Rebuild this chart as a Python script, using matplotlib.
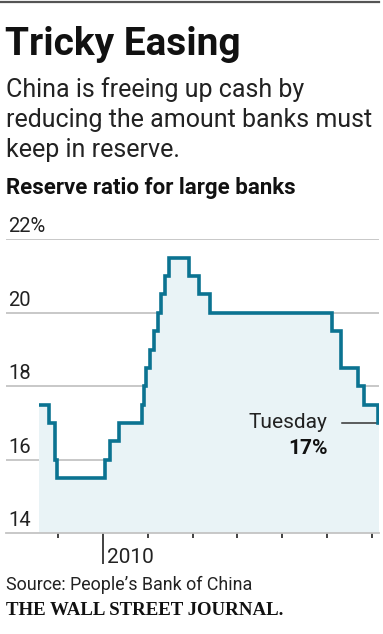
import matplotlib
matplotlib.use("Agg")
import matplotlib.pyplot as plt
from matplotlib.transforms import blended_transform_factory, offset_copy
from matplotlib.lines import Line2D

# ---- data ----
dates = [2008.58, 2008.79, 2008.93, 2008.98, 2010.05, 2010.15, 2010.36, 2010.88,
         2010.91, 2010.97, 2011.05, 2011.15, 2011.23, 2011.30, 2011.38, 2011.47,
         2011.93, 2012.15, 2012.38, 2015.10, 2015.30, 2015.68, 2015.81, 2016.14,
         2016.16]
ratios = [17.5, 17.0, 16.0, 15.5, 16.0, 16.5, 17.0, 17.5,
          18.0, 18.5, 19.0, 19.5, 20.0, 20.5, 21.0, 21.5,
          21.0, 20.5, 20.0, 19.5, 18.5, 18.0, 17.5, 17.0,
          17.0]
y_ticks = [14, 16, 18, 20, 22]
y_labels = ["14", "16", "18", "20", "22%"]
year_ticks = [2009, 2010, 2011, 2012, 2013, 2014, 2015, 2016]
labeled_year = 2010

title = "Tricky Easing"
subtitle = ["China is freeing up cash by",
            "reducing the amount banks must",
            "keep in reserve."]
chart_label = "Reserve ratio for large banks"
source = "Source: People\u2019s Bank of China"
brand = "THE WALL STREET JOURNAL."

LINE = "#0b7391"
FILL = "#e9f3f6"
GRID = "#c4c4c4"
SANS = "Roboto"

W, H = 383, 634
fig = plt.figure(figsize=(W / 100, H / 100), dpi=100)
fig.patch.set_facecolor("white")

def fx(px):
    return px / W

def fy(px):
    return 1 - px / H

ax = fig.add_axes([fx(6), fy(533.3), (379.3 - 6) / W, (533.3 - 239.3) / H])
ax.set_xlim(2007.842, 2016.16)
ax.set_ylim(14, 22)
ax.set_facecolor("none")

for s in ["top", "right", "left"]:
    ax.spines[s].set_visible(False)
ax.spines["bottom"].set_color(GRID)
ax.spines["bottom"].set_linewidth(1.3)
ax.spines["bottom"].set_zorder(5)

# gridlines
for v in y_ticks[1:]:
    ax.axhline(v, color=GRID, lw=1.3, zorder=1)

ax.fill_between(dates, ratios, 14, step="post", color=FILL, lw=0, zorder=2)
ax.step(dates, ratios, where="post", color=LINE, lw=2.6, zorder=4,
        solid_joinstyle="miter", solid_capstyle="butt")

# y labels
ax.set_yticks([])
trans_y = offset_copy(blended_transform_factory(ax.transAxes, ax.transData),
                      fig=fig, x=2, y=7, units="dots")
for v, lab in zip(y_ticks, y_labels):
    ax.text(0, v, lab, transform=trans_y, fontsize=14.5, family=SANS,
            color="#222222", ha="left", va="baseline")

# x ticks
ax.set_xticks([labeled_year])
ax.set_xticklabels([""])
ax.set_xticks([y for y in year_ticks if y != labeled_year], minor=True)
ax.tick_params(axis="x", which="major", length=22, width=1.3, color="#333333")
ax.tick_params(axis="x", which="minor", length=3.8, width=1.3, color="#333333")
trans_x = offset_copy(blended_transform_factory(ax.transData, fig.transFigure),
                      fig=fig, x=4, units="dots")
ax.text(labeled_year, fy(563), str(labeled_year), transform=trans_x,
        fontsize=15, family=SANS, color="#222222", ha="left", va="baseline")

# annotation
x_note = 2015.01
ax.plot([2015.34, dates[-2]], [ratios[-2], ratios[-2]], color="#333333", lw=1.1, zorder=3)
tr = offset_copy(ax.transData, fig=fig, y=-5, units="dots")
ax.text(x_note, ratios[-1], "Tuesday", transform=tr, fontsize=15, family=SANS,
        color="#222222", ha="right", va="baseline")
tr2 = offset_copy(ax.transData, fig=fig, y=-31, units="dots")
ax.text(x_note, ratios[-1], "17%", transform=tr2, fontsize=15, family=SANS,
        fontweight="bold", color="#111111", ha="right", va="baseline")

# header
fig.add_artist(Line2D([fx(0), fx(379)], [fy(1.5), fy(1.5)], color="#555555", lw=1.6))
fig.text(fx(5), fy(55), title, fontsize=28, fontweight="bold", family=SANS,
         color="#111111", va="baseline", ha="left")
for i, line in enumerate(subtitle):
    fig.text(fx(6), fy(97 + 30 * i), line, fontsize=18, family=SANS,
             color="#222222", va="baseline", ha="left")
fig.text(fx(6), fy(194), chart_label, fontsize=16, fontweight="bold", family=SANS,
         color="#111111", va="baseline", ha="left")

# footer
fig.text(fx(6), fy(590), source, fontsize=12.9, family=SANS, color="#222222",
         va="baseline", ha="left")
fig.text(fx(6), fy(615), brand, fontsize=13.6, fontweight="bold",
         family="Liberation Serif", color="#111111", va="baseline", ha="left")

fig.savefig("out.png", dpi=100, facecolor="white")
